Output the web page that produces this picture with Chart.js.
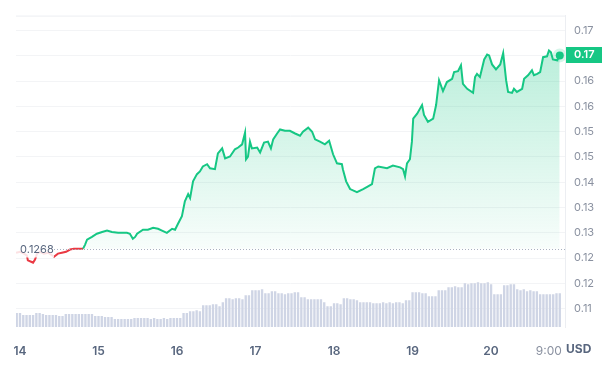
<!DOCTYPE html>
<html>
<head>
<meta charset="utf-8">
<script src="https://cdn.jsdelivr.net/npm/chart.js@4"></script>
<style>
  html, body { margin: 0; padding: 0; background: #fff; }
  canvas { display: block; }
</style>
</head>
<body>
<canvas id="chart" width="602" height="365"></canvas>
<script>
// price in USD, x = hours since the 14th 00:00
const baseline = 0.1268
const lastPriceLabel = '0.17'

const priceHours = [
  -1.2, 0, 1.2, 2.1, 2.4, 3.4, 4.0, 4.6, 5.2, 6.1, 7.3, 8.6, 9.5, 10.4, 11.6, 12.8, 14.1, 15.3, 16.5, 17.7,
  19.3, 19.9, 20.5, 22.0, 23.5, 25.1, 26.6, 28.1, 30.0, 31.2, 32.7, 33.6, 34.5, 35.2, 35.8, 37.6, 39.1, 40.7, 42.2, 43.4,
  44.9, 46.5, 47.4, 48.3, 49.5, 50.4, 51.4, 52.0, 52.9, 54.1, 55.0, 55.9, 57.2, 58.1, 59.6, 60.5, 61.8, 62.7, 64.2, 65.7,
  66.7, 67.9, 68.8, 69.1, 69.7, 70.3, 70.9, 72.5, 73.4, 74.6, 75.8, 76.7, 77.4, 78.6, 79.5, 81.0, 82.5, 84.1, 85.6, 86.5,
  88.1, 89.3, 90.2, 91.7, 93.2, 94.5, 95.7, 96.9, 98.4, 98.7, 99.7, 100.9, 103.0, 104.9, 106.4, 107.6, 108.5, 109.5, 112.2, 114.0,
  116.2, 117.1, 117.7, 118.3, 119.2, 119.8, 120.2, 121.4, 122.9, 123.5, 124.7, 126.3, 127.2, 128.1, 129.3, 130.5, 132.1, 132.7, 133.9, 134.8,
  135.4, 136.7, 138.5, 139.1, 139.7, 140.6, 141.9, 142.8, 143.4, 144.3, 145.5, 146.8, 147.7, 148.6, 149.2, 150.4, 151.0, 151.9, 153.5, 154.1,
  155.3, 156.5, 157.1, 158.1, 159.0, 159.9, 161.1, 161.7, 162.3, 162.9, 164.2, 165.0
]
const priceValues = [
  0.1259, 0.1261, 0.1257, 0.1253, 0.1242, 0.1239, 0.1237, 0.1244, 0.1257, 0.1261, 0.1257, 0.1259, 0.1255, 0.1250, 0.1257, 0.1259, 0.1261, 0.1266, 0.1268, 0.1268,
  0.1268, 0.1277, 0.1288, 0.1294, 0.1301, 0.1305, 0.1308, 0.1305, 0.1303, 0.1303, 0.1303, 0.1301, 0.1290, 0.1294, 0.1301, 0.1310, 0.1310, 0.1314, 0.1312, 0.1308,
  0.1303, 0.1312, 0.1310, 0.1323, 0.1340, 0.1373, 0.1389, 0.1380, 0.1417, 0.1433, 0.1439, 0.1450, 0.1455, 0.1446, 0.1444, 0.1479, 0.1490, 0.1468, 0.1472, 0.1488,
  0.1492, 0.1499, 0.1525, 0.1466, 0.1472, 0.1505, 0.1490, 0.1492, 0.1481, 0.1503, 0.1505, 0.1490, 0.1510, 0.1523, 0.1532, 0.1529, 0.1529, 0.1523, 0.1518, 0.1527,
  0.1536, 0.1527, 0.1510, 0.1505, 0.1499, 0.1507, 0.1477, 0.1457, 0.1455, 0.1444, 0.1417, 0.1400, 0.1393, 0.1400, 0.1406, 0.1411, 0.1446, 0.1450, 0.1446, 0.1452,
  0.1448, 0.1444, 0.1428, 0.1457, 0.1466, 0.1505, 0.1556, 0.1567, 0.1586, 0.1564, 0.1549, 0.1556, 0.1586, 0.1641, 0.1617, 0.1637, 0.1644, 0.1659, 0.1661, 0.1674,
  0.1633, 0.1622, 0.1613, 0.1648, 0.1655, 0.1648, 0.1687, 0.1698, 0.1696, 0.1676, 0.1665, 0.1676, 0.1701, 0.1641, 0.1615, 0.1613, 0.1622, 0.1615, 0.1622, 0.1644,
  0.1652, 0.1663, 0.1652, 0.1655, 0.1659, 0.1692, 0.1694, 0.1707, 0.1703, 0.1687, 0.1685, 0.1696
]

// hourly volume bars, first bar at hour -1
const volumeStartHour = -1
const volumeValues = [
  14, 14, 12, 12, 12, 12, 14, 14, 13, 12, 12, 12, 12, 11, 11,
  13, 13, 13, 13, 13, 13, 13, 13, 13, 11, 11, 11, 10, 10, 10,
  8, 8, 8, 8, 8, 8, 9, 9, 9, 9, 9, 8, 9, 8, 8, 9, 8, 9, 9, 9, 9,
  14, 14, 16, 16, 17, 16, 22, 22, 22, 23, 23, 21, 25, 29, 29, 28, 29, 29, 28,
  32, 32, 37, 37, 37, 38, 34, 34, 36, 36, 34, 34, 33, 34, 34, 35, 35,
  30, 30, 28, 28, 28, 28, 28, 25, 21, 21, 24, 24, 23, 29, 29, 28, 28, 27,
  25, 25, 25, 25, 24, 24, 24, 25, 24, 25, 24, 25, 25, 24, 27, 27,
  35, 35, 35, 34, 34, 31, 31, 31, 37, 37, 37, 40, 40, 41, 40, 40,
  44, 43, 44, 44, 45, 44, 44, 45, 43, 33, 33, 33, 42, 42, 43, 43,
  38, 37, 38, 36, 37, 36, 36, 33, 33, 33, 33, 33, 34, 34
]

const xTickHours = [0, 24, 48, 72, 96, 120, 144, 165]
const xTickLabels = ['14', '15', '16', '17', '18', '19', '20', '9:00 PM']
const yTickValues = [0.11351, 0.11911, 0.12471, 0.13031, 0.13591, 0.14151, 0.14711, 0.15271, 0.15831, 0.16391, 0.16951, 0.17511]
const yTickLabels = ['0.11', '0.12', '0.12', '0.13', '0.13', '0.14', '0.15', '0.15', '0.16', '0.16', '0.17', '0.17']

const green = '#16c784'
const red = '#ea3943'
const textGrey = '#58667e'
const lightGrey = '#8a91a0'

const pricePoints = priceHours.map((h, i) => ({ x: h, y: priceValues[i] }))
const volumePoints = volumeValues.map((v, i) => ({ x: volumeStartHour + i, y: v }))

// the last x label is a time, drawn lighter than the day numbers
const isTimeTick = c => c.index === xTickLabels.length - 1

const overlay = {
  id: 'overlay',
  afterDatasetsDraw (chart) {
    const { ctx, chartArea: a, scales } = chart
    const y = Math.round(scales.y.getPixelForValue(baseline)) + 0.5
    ctx.save()
    // top border
    ctx.strokeStyle = '#eceef2'
    ctx.lineWidth = 1
    ctx.beginPath()
    ctx.moveTo(a.left, a.top + 0.5)
    ctx.lineTo(a.right, a.top + 0.5)
    ctx.stroke()
    // open price label
    ctx.fillStyle = 'rgba(255, 255, 255, 0.85)'
    ctx.fillRect(a.left, y - 8, 38, 16)
    ctx.font = '11px Inter'
    ctx.fillStyle = textGrey
    ctx.textBaseline = 'middle'
    ctx.fillText(baseline.toFixed(4), a.left + 4, y)
    ctx.strokeStyle = '#a9b1c0'
    ctx.setLineDash([1, 2])
    ctx.beginPath()
    ctx.moveTo(a.left + 38, y)
    ctx.lineTo(a.right, y)
    ctx.stroke()
    // hide the part of the last x label under the price axis
    ctx.fillStyle = '#fff'
    ctx.fillRect(a.right + 1, a.bottom + 1, chart.width - a.right, chart.height - a.bottom)
    ctx.restore()
  },
  afterDraw (chart) {
    const { ctx, chartArea: a, scales } = chart
    const y = scales.y.getPixelForValue(priceValues[priceValues.length - 1])
    ctx.save()
    ctx.fillStyle = green
    ctx.fillRect(a.right + 1, Math.round(y) - 8, chart.width - a.right, 16)
    ctx.fillStyle = '#fff'
    ctx.font = '600 11px Inter'
    ctx.textBaseline = 'middle'
    ctx.fillText(lastPriceLabel, a.right + 9, Math.round(y))
    ctx.fillStyle = textGrey
    ctx.font = '700 12px Inter'
    ctx.fillText('USD', a.right + 1, a.bottom + 22)
    ctx.restore()
  }
}

new Chart(document.getElementById('chart'), {
  type: 'line',
  data: {
    datasets: [
      {
        data: pricePoints,
        yAxisID: 'y',
        borderWidth: 2,
        borderColor: green,
        segment: {
          borderColor: c => (c.p0.parsed.y + c.p1.parsed.y) / 2 <= baseline ? red : green
        },
        backgroundColor: c => {
          const area = c.chart.chartArea
          if (!area) return 'rgba(0,0,0,0)'
          const y = c.chart.scales.y.getPixelForValue(baseline)
          const g = c.chart.ctx.createLinearGradient(0, area.top, 0, y)
          g.addColorStop(0, 'rgba(22, 199, 132, 0.34)')
          g.addColorStop(1, 'rgba(22, 199, 132, 0.03)')
          return g
        },
        fill: { target: { value: baseline }, below: 'rgba(0,0,0,0)' },
        pointRadius: c => c.dataIndex === priceValues.length - 1 ? 4 : 0,
        pointBackgroundColor: green,
        pointBorderColor: 'rgba(22, 199, 132, 0.18)',
        pointBorderWidth: 6,
        tension: 0,
        order: 1
      },
      {
        type: 'bar',
        data: volumePoints,
        yAxisID: 'vol',
        backgroundColor: '#cfd5e5',
        categoryPercentage: 1,
        barPercentage: 0.72,
        order: 2
      }
    ]
  },
  options: {
    responsive: false,
    animation: false,
    devicePixelRatio: 1,
    layout: { padding: { left: 16, top: 13 } },
    plugins: {
      legend: { display: false },
      tooltip: { enabled: false }
    },
    scales: {
      x: {
        type: 'linear',
        offset: false,
        min: -1.22,
        max: 166.6,
        afterBuildTicks: s => { s.ticks = xTickHours.map(v => ({ value: v })) },
        afterFit: s => { s.height = 38 },
        border: { display: false },
        grid: { display: false, offset: false },
        ticks: {
          autoSkip: false,
          maxRotation: 0,
          padding: 9,
          color: c => isTimeTick(c) ? lightGrey : textGrey,
          font: c => isTimeTick(c)
            ? { family: 'Inter', size: 12, weight: '400' }
            : { family: 'Inter', size: 12, weight: '600' },
          callback: (v, i) => xTickLabels[i]
        }
      },
      y: {
        position: 'right',
        min: 0.10945,
        max: 0.17841,
        afterBuildTicks: s => { s.ticks = yTickValues.map(v => ({ value: v })) },
        afterFit: s => { s.width = 37 },
        border: { display: true, color: '#eceef2' },
        grid: { color: '#f3f4f6', drawTicks: false },
        ticks: {
          padding: 9,
          color: lightGrey,
          font: { family: 'Inter', size: 11 },
          callback: (v, i) => yTickLabels[i]
        }
      },
      vol: {
        display: false,
        min: 0,
        max: 314
      }
    }
  },
  plugins: [overlay]
})
</script>
</body>
</html>
